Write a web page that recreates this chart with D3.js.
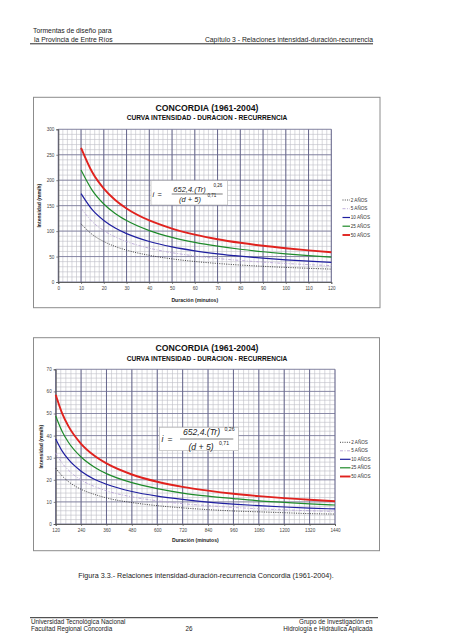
<!DOCTYPE html>
<html><head><meta charset="utf-8">
<script src="https://cdn.jsdelivr.net/npm/d3@7"></script>
<style>body{margin:0;background:#fff}svg{display:block;font-family:"Liberation Sans",Arial,sans-serif}</style>
</head><body><svg id="c" width="452" height="640"></svg>
<script>
// ---- data ----
const durShort = [10,15,20,25,30,40,50,60,70,80,90,100,110,120];
const tr2Short  = [114.2,93.1,79.5,69.8,62.6,52.4,45.4,40.3,36.4,33.3,30.8,28.7,26.9,25.3];
const tr5Short  = [144.9,118.2,100.9,88.6,79.4,66.4,57.6,51.2,46.2,42.3,39.1,36.4,34.1,32.2];
const tr10Short = [173.6,141.5,120.8,106.1,95.1,79.6,69.0,61.3,55.4,50.7,46.8,43.6,40.9,38.5];
const tr25Short = [220.2,179.6,153.3,134.6,120.7,101.0,87.6,77.8,70.3,64.3,59.4,55.3,51.9,48.9];
const tr50Short = [263.7,215.0,183.5,161.2,144.5,120.9,104.9,93.1,84.1,77.0,71.1,66.3,62.1,58.5];

const durLong = [120,150,180,240,300,360,480,600,720,840,960,1080,1200,1320,1440];
const tr2Long  = [25.3,21.8,19.2,15.7,13.5,11.8,9.7,8.3,7.3,6.5,5.9,5.5,5.1,4.7,4.5];
const tr5Long  = [32.2,27.6,24.4,19.9,17.1,15.0,12.3,10.5,9.2,8.3,7.5,6.9,6.4,6.0,5.7];
const tr10Long = [38.5,33.1,29.2,23.9,20.4,18.0,14.7,12.6,11.1,9.9,9.0,8.3,7.7,7.2,6.8];
const tr25Long = [48.9,42.0,37.0,30.3,25.9,22.8,18.7,16.0,14.0,12.6,11.5,10.5,9.8,9.1,8.6];
const tr50Long = [58.5,50.2,44.3,36.3,31.1,27.4,22.4,19.1,16.8,15.1,13.7,12.6,11.7,11.0,10.3];

const seriesNames = ["2 AÑOS","5 AÑOS","10 AÑOS","25 AÑOS","50 AÑOS"];
const xTicksShort = [0,10,20,30,40,50,60,70,80,90,100,110,120];
const yTicksShort = [0,50,100,150,200,250,300];
const xTicksLong = [120,240,360,480,600,720,840,960,1080,1200,1320,1440];
const yTicksLong = [0,10,20,30,40,50,60,70];

// ---- styles ----
const seriesStyle = [
  {color:"#303030", width:0.9, dash:"1,1.3"},
  {color:"#b9a6d6", width:0.9, dash:"3,1.5,1,1.5"},
  {color:"#1f1fa0", width:1.2, dash:null},
  {color:"#1e8a2a", width:1.2, dash:null},
  {color:"#e0221e", width:1.9, dash:null}
];

const svg = d3.select("#c");

// ---- page header/footer ----
const page = svg.append("g").attr("fill","#222");
page.append("text").attr("x",33).attr("y",33).attr("font-size",6.8).text("Tormentas de diseño para");
page.append("text").attr("x",34).attr("y",42).attr("font-size",6.8).text("la Provincia de Entre Ríos");
page.append("text").attr("x",373).attr("y",42).attr("font-size",6.8).attr("text-anchor","end").text("Capítulo 3 - Relaciones intensidad-duración-recurrencia");
svg.append("line").attr("x1",30).attr("x2",373).attr("y1",43.8).attr("y2",43.8).attr("stroke","#111").attr("stroke-width",0.9);

page.append("text").attr("x",206).attr("y",577.5).attr("font-size",7.2).attr("text-anchor","middle").text("Figura 3.3.- Relaciones intensidad-duración-recurrencia Concordia (1961-2004).");

svg.append("line").attr("x1",30).attr("x2",378).attr("y1",617.7).attr("y2",617.7).attr("stroke","#111").attr("stroke-width",0.9);
page.append("text").attr("x",31).attr("y",624).attr("font-size",6.3).text("Universidad Tecnológica Nacional");
page.append("text").attr("x",31).attr("y",630.5).attr("font-size",6.3).text("Facultad Regional Concordia");
page.append("text").attr("x",189).attr("y",630.5).attr("font-size",6.3).attr("text-anchor","middle").text("26");
page.append("text").attr("x",372.5).attr("y",624).attr("font-size",6.3).attr("text-anchor","end").text("Grupo de Investigación en");
page.append("text").attr("x",372.5).attr("y",630.5).attr("font-size",6.3).attr("text-anchor","end").text("Hidrología e Hidráulica Aplicada");

function drawChart(c) {
  const g = svg.append("g");
  g.append("rect").attr("x",c.frame[0]).attr("y",c.frame[1]).attr("width",c.frame[2]-c.frame[0]).attr("height",c.frame[3]-c.frame[1])
    .attr("fill","#fff").attr("stroke","#8c8c8c").attr("stroke-width",1);
  const cx = (c.plot[0]+c.plot[2])/2;
  g.append("text").attr("x",c.titleX).attr("y",c.titleY).attr("text-anchor","middle").attr("font-weight","bold").attr("font-size",8.7).attr("fill","#111").text("CONCORDIA (1961-2004)");
  g.append("text").attr("x",c.titleX).attr("y",c.subY).attr("text-anchor","middle").attr("font-weight","bold").attr("font-size",6.6).attr("fill","#111").text("CURVA INTENSIDAD - DURACION - RECURRENCIA");

  const x = d3.scaleLinear().domain(c.xDomain).range([c.plot[0],c.plot[2]]);
  const y = d3.scaleLinear().domain(c.yDomain).range([c.plot[3],c.plot[1]]);

  // minor grid
  const grid = g.append("g");
  d3.range(c.xDomain[0], c.xDomain[1]+1e-9, c.xMinor).forEach(v => {
    grid.append("line").attr("x1",x(v)).attr("x2",x(v)).attr("y1",c.plot[1]).attr("y2",c.plot[3]).attr("stroke","#bdbdc6").attr("stroke-width",0.6);
  });
  d3.range(c.yDomain[0], c.yDomain[1]+1e-9, c.yMinor).forEach(v => {
    grid.append("line").attr("x1",c.plot[0]).attr("x2",c.plot[2]).attr("y1",y(v)).attr("y2",y(v)).attr("stroke","#bdbdc6").attr("stroke-width",0.6);
  });
  // major grid
  c.xTicks.forEach(v => {
    grid.append("line").attr("x1",x(v)).attr("x2",x(v)).attr("y1",c.plot[1]).attr("y2",c.plot[3]).attr("stroke","#4a4a78").attr("stroke-width",0.8);
  });
  c.yTicks.forEach(v => {
    grid.append("line").attr("x1",c.plot[0]).attr("x2",c.plot[2]).attr("y1",y(v)).attr("y2",y(v)).attr("stroke","#6a6a90").attr("stroke-width",0.7);
  });

  // axes
  const ax = g.append("g").attr("transform",`translate(0,${c.plot[3]})`)
    .call(d3.axisBottom(x).tickValues(c.xTicks).tickFormat(d3.format("d")).tickSize(2).tickPadding(2.5));
  const ay = g.append("g").attr("transform",`translate(${c.plot[0]},0)`)
    .call(d3.axisLeft(y).tickValues(c.yTicks).tickFormat(d3.format("d")).tickSize(2).tickPadding(2));
  [ax,ay].forEach(a => {
    a.select(".domain").attr("stroke","#555").attr("stroke-width",0.9);
    a.selectAll(".tick line").attr("stroke","#555").attr("stroke-width",0.7);
    a.selectAll("text").attr("font-size",4.6).attr("fill","#444").attr("font-family","Liberation Sans, Arial, sans-serif");
  });

  // axis titles
  g.append("text").attr("x",cx).attr("y",c.xTitleY).attr("text-anchor","middle").attr("font-weight","bold").attr("font-size",5.1).attr("fill","#222").text("Duración (minutos)");
  g.append("text").attr("transform",`translate(${c.yTitleX},${(c.plot[1]+c.plot[3])/2}) rotate(-90)`).attr("text-anchor","middle").attr("font-weight","bold").attr("font-size",5.1).attr("fill","#222").text("Intensidad (mm/h)");

  // curves
  const line = d3.line().x(d => x(d[0])).y(d => y(d[1])).curve(d3.curveMonotoneX);
  c.series.forEach((vals, i) => {
    const st = seriesStyle[i];
    g.append("path").datum(c.dur.map((d,k) => [d, vals[k]]))
      .attr("d", line).attr("fill","none").attr("stroke",st.color).attr("stroke-width",st.width)
      .attr("stroke-dasharray", st.dash);
  });

  // legend
  seriesNames.forEach((name, i) => {
    const st = seriesStyle[i];
    const ly = c.legendY[i];
    g.append("line").attr("x1",c.legendX[0]).attr("x2",c.legendX[1]).attr("y1",ly).attr("y2",ly)
      .attr("stroke",st.color).attr("stroke-width",st.width).attr("stroke-dasharray",st.dash);
    g.append("text").attr("x",c.legendX[1]+0.8).attr("y",ly+1.6).attr("font-size",4.6).attr("fill","#333").text(name);
  });

  // equation box
  const e = c.eq;
  const eg = g.append("g").attr("font-style","italic").attr("fill","#222");
  eg.append("rect").attr("x",e.box[0]).attr("y",e.box[1]).attr("width",e.box[2]-e.box[0]).attr("height",e.box[3]-e.box[1])
    .attr("fill","#fff").attr("stroke","#b0b0b0").attr("stroke-width",0.6);
  eg.append("text").attr("x",e.iX).attr("y",e.fracY+e.fs*0.35).attr("font-size",e.fs).text("i");
  eg.append("text").attr("x",e.eqX).attr("y",e.fracY+e.fs*0.35).attr("font-size",e.fs).attr("font-style","normal").text("=");
  eg.append("line").attr("x1",e.frac[0]).attr("x2",e.frac[1]).attr("y1",e.fracY).attr("y2",e.fracY).attr("stroke","#222").attr("stroke-width",0.6);
  eg.append("text").attr("x",e.numX).attr("y",e.numY).attr("font-size",e.fs).attr("text-anchor","middle").text("652,4.(Tr)");
  eg.append("text").attr("x",e.sup1[0]).attr("y",e.sup1[1]).attr("font-size",e.fs*0.6).attr("font-style","normal").text("0,26");
  eg.append("text").attr("x",e.denX).attr("y",e.denY).attr("font-size",e.fs).attr("text-anchor","middle").text("(d + 5)");
  eg.append("text").attr("x",e.sup2[0]).attr("y",e.sup2[1]).attr("font-size",e.fs*0.6).attr("font-style","normal").text("0,71");
}

drawChart({
  frame:[33.5,97.3,380,307.7],
  plot:[58.3,129.3,331.3,282],
  titleX:207, titleY:110.5, subY:120.2,
  xDomain:[0,120], yDomain:[0,300], xMinor:2, yMinor:10,
  xTicks:xTicksShort, yTicks:yTicksShort,
  xTitleY:301.8, yTitleX:40.8,
  dur:durShort, series:[tr2Short,tr5Short,tr10Short,tr25Short,tr50Short],
  legendX:[342.5,350], legendY:[200,208.7,217.5,226.2,235],
  eq:{box:[151,180.7,227.7,205], fs:7.5, iX:152.5, eqX:157.5, frac:[171.7,222.7], fracY:194,
      numX:189.5, numY:191.7, denX:190, denY:202, sup1:[213.5,186.8], sup2:[207.5,197.2]}
});

drawChart({
  frame:[33.5,337.7,379.5,550.7],
  plot:[55.7,369.3,335,524],
  titleX:207, titleY:350.5, subY:360.8,
  xDomain:[120,1440], yDomain:[0,70], xMinor:24, yMinor:2,
  xTicks:xTicksLong, yTicks:yTicksLong,
  xTitleY:542, yTitleX:43,
  dur:durLong, series:[tr2Long,tr5Long,tr10Long,tr25Long,tr50Long],
  legendX:[340,350.5], legendY:[442.3,450.8,459.3,467.8,476.5],
  eq:{box:[159.3,427.3,238.3,450.7], fs:8.6, iX:161.5, eqX:167.5, frac:[180,233.3], fracY:439,
      numX:201.5, numY:435, denX:201, denY:449.5, sup1:[224.5,430.5], sup2:[219,444.8]}
});
</script></body></html>
